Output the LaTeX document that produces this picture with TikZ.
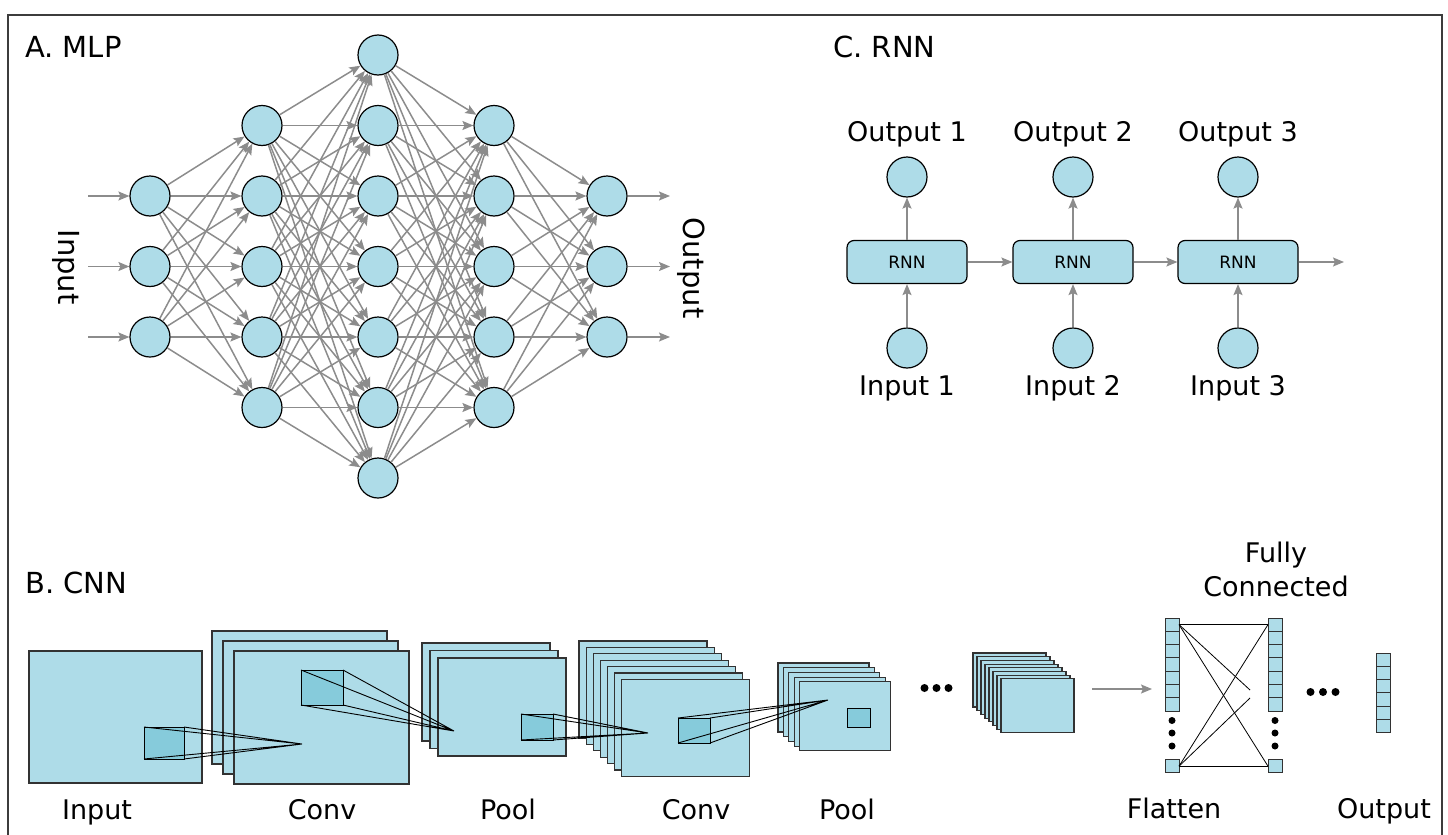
\documentclass[tikz,border=0pt]{standalone}
\usepackage{fontspec}
\setmainfont{DejaVu Sans}
\usetikzlibrary{arrows.meta}
\definecolor{cellblue}{RGB}{174,220,232}
\definecolor{kernelblue}{RGB}{134,203,219}
\definecolor{edgegray}{RGB}{140,140,140}
\definecolor{framegray}{RGB}{60,60,60}
\definecolor{mapline}{RGB}{50,50,50}

% stack of feature maps: x0, y0, width, height, dx, dy, count
\newcommand\fmapstack[7]{%
  \pgfmathtruncatemacro\fmlast{#7-1}%
  \foreach \i in {0,...,\fmlast}{%
    \draw[fmap] ({#1+\i*#5},{#2+\i*#6}) rectangle ++(#3,#4);
  }%
}
% receptive field: corners x1,y1,x2,y2 and the apex coordinate name
\newcommand\kernelfield[5]{%
  \draw[kern] (#1,#2) rectangle (#3,#4);
  \draw[ray] (#1,#2) -- (#5) (#3,#2) -- (#5) (#1,#4) -- (#5) (#3,#4) -- (#5);
}
% column of flattened cells: x, top y, count
\newcommand\cellcolumn[3]{%
  \pgfmathtruncatemacro\cclast{#3-1}%
  \foreach \k in {0,...,\cclast}{%
    \draw[cell] (#1,{#2+\k*13.3}) rectangle ++(14,13.3);
  }%
}

\begin{document}
\begin{tikzpicture}[x=1pt,y=-1pt,
  neuron/.style={circle, draw=black, line width=1.2pt, fill=cellblue,
    minimum size=40pt, inner sep=0pt},
  garrow/.style={draw=edgegray, line width=1.5pt,
    -{Stealth[length=11pt,width=9pt,inset=2pt]}},
  rnnbox/.style={draw=black, line width=1.2pt, fill=cellblue, rounded corners=7pt,
    minimum width=120pt, minimum height=43pt, inner sep=0pt,
    font=\fontsize{17}{20}\selectfont},
  title/.style={font=\fontsize{29}{34}\selectfont, inner sep=0pt, anchor=base west},
  lab/.style={font=\fontsize{27}{32}\selectfont, inner sep=0pt, anchor=base},
  sidelab/.style={font=\fontsize{29}{34}\selectfont, inner sep=0pt, rotate=-90},
  fmap/.style={draw=mapline, line width=1.1pt, fill=cellblue},
  kern/.style={draw=black, line width=1pt, fill=kernelblue},
  ray/.style={draw=black, line width=0.9pt},
  cell/.style={draw=mapline, line width=1pt, fill=cellblue},
  fcline/.style={draw=black, line width=0.8pt},
  dot/.style={circle, fill=black, inner sep=0pt, minimum size=8pt},
  vdot/.style={circle, fill=black, inner sep=0pt, minimum size=7pt}
]
\useasboundingbox (0,0) rectangle (1448,835);

% frame
\draw[framegray, line width=1.3pt] (8,835) -- (8,15) -- (1442,15) -- (1442,835);

% ---------------- A. MLP ----------------
\node[title] (titleA) at (25,57) {A. MLP};

\foreach \L/\n/\x in {1/3/150, 2/5/262, 3/7/378, 4/5/494, 5/3/607}{
  \foreach \k in {1,...,\n}{
    \node[neuron] (m\L-\k) at (\x,{266.5+(\k-(\n+1)/2)*70.5}) {};
  }
}
\foreach \L/\n/\m in {1/3/5, 2/5/7, 3/7/5, 4/5/3}{
  \pgfmathtruncatemacro\Lnext{\L+1}
  \foreach \a in {1,...,\n}{
    \foreach \b in {1,...,\m}{
      \draw[garrow] (m\L-\a) -- (m\Lnext-\b);
    }
  }
}
\foreach \k in {1,2,3}{
  \coordinate (in\k) at (88,{266.5+(\k-2)*70.5});
  \coordinate (out\k) at (670,{266.5+(\k-2)*70.5});
  \draw[garrow] (in\k) -- (m1-\k);
  \draw[garrow] (m5-\k) -- (out\k);
}
\node[sidelab] (mlpin) at (66,267) {Input};
\node[sidelab] (mlpout) at (691,268) {Output};

% ---------------- C. RNN ----------------
\node[title] (titleC) at (833,57) {C. RNN};
\foreach \k/\x in {1/907, 2/1073, 3/1238}{
  \node[rnnbox] (rb\k) at (\x,262) {RNN};
  \node[neuron] (ro\k) at (\x,177) {};
  \node[neuron] (ri\k) at (\x,348) {};
  \node[lab] (rol\k) at (\x,141) {Output \k};
  \node[lab] (ril\k) at (\x,395) {Input \k};
  \draw[garrow] (rb\k) -- (ro\k);
  \draw[garrow] (ri\k) -- (rb\k);
}
\coordinate (rend) at (1344,262);
\draw[garrow] (rb1) -- (rb2);
\draw[garrow] (rb2) -- (rb3);
\draw[garrow] (rb3.east) -- (rend);

% ---------------- B. CNN ----------------
\node[title] (titleB) at (25,593) {B. CNN};

% input image
\draw[fmap] (29,651) rectangle (202,783);
% feature map stacks
\fmapstack{212}{631}{175}{133}{11}{10}{3}
\fmapstack{422}{643}{128}{98}{8}{7.5}{3}
\fmapstack{579}{641}{128}{97}{7.1}{6.4}{7}
\fmapstack{778}{663}{91}{69}{5.4}{4.7}{5}
\fmapstack{973}{653}{73}{54}{4}{3.7}{8}

% receptive fields
\coordinate (apex1) at (302,744);
\coordinate (apex2) at (454,731);
\coordinate (apex3) at (648,733);
\coordinate (apex4) at (828,700);
\kernelfield{144}{727}{184}{759}{apex1}
\kernelfield{301}{670}{343}{705}{apex2}
\kernelfield{521}{714}{553}{740}{apex3}
\kernelfield{678}{718}{710}{743}{apex4}
\draw[kern] (847,708) rectangle (870,727);

% ellipsis between stacks
\foreach \x in {924.5,936.5,948.5}{ \node[dot] at (\x,688) {}; }

% flatten arrow
\coordinate (flA) at (1092,689);
\coordinate (flB) at (1152,689);
\draw[garrow] (flA) -- (flB);

% flatten and fully connected columns
\cellcolumn{1165}{618}{7}
\draw[cell] (1165,759.5) rectangle ++(14,13.3);
\cellcolumn{1268}{618}{7}
\draw[cell] (1268,759.5) rectangle ++(14,13.3);
\foreach \y in {720.5,733,746}{
  \node[vdot] at (1172,\y) {};
  \node[vdot] at (1275,\y) {};
}
\coordinate (ftop) at (1179,624.6);
\coordinate (fbot) at (1179,766.2);
\coordinate (ctop) at (1268,624.6);
\coordinate (cbot) at (1268,766.2);
\coordinate (cmidA) at (1250,690);
\coordinate (cmidB) at (1250,698);
\draw[fcline] (ftop) -- (ctop);
\draw[fcline] (ftop) -- (cbot);
\draw[fcline] (ftop) -- (cmidA);
\draw[fcline] (fbot) -- (ctop);
\draw[fcline] (fbot) -- (cbot);
\draw[fcline] (fbot) -- (cmidB);

\foreach \x in {1310.5,1323,1335.5}{ \node[dot] at (\x,692) {}; }
\cellcolumn{1376}{653}{6}

% CNN labels
\node[lab] (lInput) at (97,819) {Input};
\node[lab] (lConv1) at (322,819) {Conv};
\node[lab] (lPool1) at (508,819) {Pool};
\node[lab] (lConv2) at (696,819) {Conv};
\node[lab] (lPool2) at (847,819) {Pool};
\node[lab] (lFlat) at (1174,818) {Flatten};
\node[lab] (lOut) at (1384,818) {Output};
\node[lab] (lFully) at (1276,562) {Fully};
\node[lab] (lConn) at (1276,596) {Connected};
\end{tikzpicture}
\end{document}
